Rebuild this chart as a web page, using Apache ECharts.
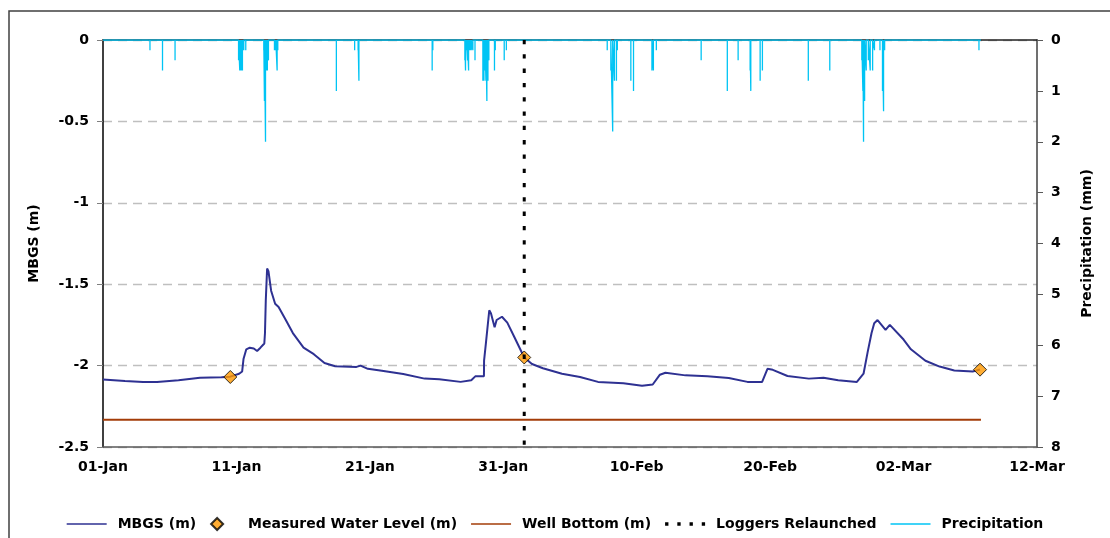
<!DOCTYPE html>
<html><head><meta charset="utf-8">
<script src="https://cdn.jsdelivr.net/npm/echarts@6/dist/echarts.min.js"></script>
<style>html,body{margin:0;padding:0;background:#fff}#c{width:1110px;height:538px}</style>
</head><body><div id="c"></div>
<script>
// x values are days since 01-Jan
const xTickLabels = ['01-Jan','11-Jan','21-Jan','31-Jan','10-Feb','20-Feb','02-Mar','12-Mar'];
const mbgsDays = [0,1.65,3.0,4.05,5.66,7.27,8.88,9.54,10.2,10.43,10.53,10.74,11.0,11.3,11.55,11.8,12.09,12.14,12.2,12.3,12.4,12.6,12.9,13.16,13.7,14.23,15.03,15.8,16.6,17.4,19.0,19.3,19.85,20.9,22.5,24.1,25.2,26.8,27.6,27.9,28.55,28.56,28.7,28.95,29.08,29.35,29.5,29.9,30.3,30.8,31.57,32.15,32.97,34.4,35.75,37.1,39.0,40.4,41.2,41.74,42.15,43.65,45.3,46.9,48.3,49.4,49.8,50.2,51.3,52.9,54.0,55.1,56.5,57.0,57.3,57.6,57.8,58.05,58.65,58.97,60.0,60.55,61.64,62.7,63.8,65.18,65.73];
const mbgsLevels = [-2.085,-2.094,-2.10,-2.10,-2.09,-2.075,-2.072,-2.068,-2.05,-2.036,-1.96,-1.90,-1.89,-1.895,-1.91,-1.89,-1.864,-1.80,-1.60,-1.404,-1.42,-1.54,-1.62,-1.64,-1.72,-1.80,-1.89,-1.93,-1.984,-2.004,-2.008,-2.0,-2.02,-2.032,-2.052,-2.08,-2.084,-2.10,-2.09,-2.066,-2.066,-1.97,-1.86,-1.66,-1.68,-1.764,-1.72,-1.70,-1.736,-1.82,-1.95,-1.99,-2.016,-2.05,-2.07,-2.10,-2.108,-2.124,-2.116,-2.056,-2.044,-2.06,-2.066,-2.076,-2.10,-2.10,-2.02,-2.026,-2.064,-2.08,-2.074,-2.09,-2.10,-2.05,-1.92,-1.80,-1.74,-1.72,-1.78,-1.75,-1.84,-1.90,-1.97,-2.006,-2.03,-2.036,-2.024];
const measuredDays = [9.54, 31.57, 65.73];
const measuredLevels = [-2.07, -1.95, -2.025];
const wellBottomDays = [0, 65.8];
const wellBottomLevels = [-2.333, -2.333];
const relaunchDays = [31.57, 31.57];
const relaunchLevels = [0, -2.5];
const precipDays = [3.52,4.46,5.40,10.16,10.25,10.35,10.45,10.55,10.7,12.05,12.1,12.18,12.25,12.32,12.4,12.85,12.95,13.05,13.1,17.49,18.86,19.12,19.18,24.67,24.72,27.12,27.17,27.25,27.32,27.4,27.5,27.6,27.72,27.88,28.47,28.55,28.62,28.7,28.77,28.85,28.92,29.34,29.4,30.07,30.23,37.79,38.06,38.2,38.33,38.48,38.55,39.56,39.76,41.14,41.25,41.47,44.83,46.79,47.6,48.5,48.55,49.25,49.42,52.86,54.47,56.87,56.95,57.0,57.08,57.2,57.36,57.5,57.68,57.82,58.23,58.42,58.5,58.58,65.65];
const precipValues = [0.2,0.6,0.4,0.4,0.6,0.6,0.6,0.2,0.2,0.2,1.2,2.0,0.6,0.6,0.4,0.2,0.2,0.6,0.2,1.0,0.2,0.2,0.8,0.6,0.2,0.4,0.6,0.2,0.4,0.6,0.2,0.2,0.2,0.4,0.8,0.8,0.6,0.8,1.2,0.8,0.4,0.6,0.2,0.4,0.2,0.2,0.6,1.8,0.8,0.8,0.2,0.8,1.0,0.6,0.6,0.2,0.4,1.0,0.4,0.6,1.0,0.8,0.6,0.8,0.6,0.4,1.0,2.0,1.2,0.6,0.4,0.6,0.6,0.2,0.2,1.0,1.4,0.2,0.2];
const precipStartDay = 0, precipEndDay = 65.8;

const zip = (a, b) => a.map((v, i) => [v, b[i]]);
const precipData = [[precipStartDay, 0]];
precipDays.forEach((d, i) => { precipData.push([d, 0], [d, precipValues[i]], [d, 0]); });
precipData.push([precipEndDay, 0]);

const FONT = 'DejaVu Sans';
const lbl = {color:'#000', fontFamily:FONT, fontWeight:'bold', fontSize:14};
const lineIcon = 'path://M0,0h40v1.6h-40z';
const dotIcon = 'path://M0,0h3v3h-3zM11,0h3v3h-3zM22,0h3v3h-3zM33,0h3v3h-3z';
const diamondIcon = 'path://M6,0L12,6L6,12L0,6Z';

const chart = echarts.init(document.getElementById('c'), null, {renderer:'canvas'});
chart.setOption({
  animation:false,
  backgroundColor:'#fff',
  graphic:[{type:'rect', shape:{x:9, y:11, width:1200, height:700}, style:{fill:'none', stroke:'#404040', lineWidth:1.5}, silent:true, z:-10}],
  grid:{left:103, right:73, top:40, bottom:91, containLabel:false},
  legend:{
    bottom:2, left:'center', itemWidth:40, itemHeight:12, itemGap:14, symbolKeepAspect:true,
    textStyle:{color:'#000', fontFamily:FONT, fontWeight:'bold', fontSize:14, padding:[0,0,0,6]},
    data:[
      {name:'MBGS (m)', icon:lineIcon},
      {name:'Measured Water Level (m)', icon:diamondIcon},
      {name:'Well Bottom (m)', icon:lineIcon},
      {name:'Loggers Relaunched', icon:dotIcon},
      {name:'Precipitation', icon:lineIcon}
    ]
  },
  xAxis:[{
    type:'value', min:0, max:70, interval:10, position:'bottom',
    axisLine:{show:true, onZero:false, lineStyle:{color:'#595959', width:1.5}},
    axisTick:{show:false}, splitLine:{show:false},
    axisLabel:Object.assign({margin:13, formatter:v => xTickLabels[Math.round(v/10)]}, lbl)
  },{
    type:'value', min:0, max:70, position:'top',
    axisLine:{show:true, onZero:false, lineStyle:{color:'#222', width:1.5}},
    axisTick:{show:false}, splitLine:{show:false}, axisLabel:{show:false}
  }],
  yAxis:[{
    type:'value', min:-2.5, max:0, interval:0.5, position:'left',
    name:'MBGS (m)', nameLocation:'middle', nameRotate:90, nameGap:62,
    nameTextStyle:{color:'#000', fontFamily:FONT, fontWeight:'bold', fontSize:14},
    axisLine:{show:true, onZero:false, lineStyle:{color:'#000', width:1.5}},
    axisTick:{show:true, length:6, lineStyle:{color:'#7F7F7F'}},
    splitLine:{show:true, lineStyle:{color:'#BFBFBF', width:1.3, type:[9,6]}},
    axisLabel:Object.assign({margin:14}, lbl)
  },{
    type:'value', min:0, max:8, interval:1, inverse:true, position:'right',
    name:'Precipitation (mm)', nameLocation:'middle', nameRotate:90, nameGap:43,
    nameTextStyle:{color:'#000', fontFamily:FONT, fontWeight:'bold', fontSize:14},
    axisLine:{show:true, onZero:false, lineStyle:{color:'#404040', width:1.5}},
    axisTick:{show:true, length:6, lineStyle:{color:'#595959'}},
    splitLine:{show:false},
    axisLabel:Object.assign({margin:14}, lbl)
  }],
  series:[
    {name:'MBGS (m)', type:'line', data:zip(mbgsDays, mbgsLevels), symbol:'none', z:4,
     lineStyle:{color:'#2E3192', width:2}, itemStyle:{color:'#2E3192'}},
    {name:'Measured Water Level (m)', type:'scatter', data:zip(measuredDays, measuredLevels), symbol:'diamond', symbolSize:13, z:6,
     itemStyle:{color:'#FF9900', borderColor:'#000', borderWidth:1}},
    {name:'Well Bottom (m)', type:'line', data:zip(wellBottomDays, wellBottomLevels), symbol:'none', z:3,
     lineStyle:{color:'#A33C08', width:2}, itemStyle:{color:'#A33C08'}},
    {name:'Loggers Relaunched', type:'line', data:zip(relaunchDays, relaunchLevels), symbol:'none', z:7,
     lineStyle:{color:'#000', width:3, type:[4.3,10]}, itemStyle:{color:'#000'}},
    {name:'Precipitation', type:'line', yAxisIndex:1, data:precipData, symbol:'none', z:5,
     lineStyle:{color:'#00C4F4', width:1.3}, itemStyle:{color:'#00C4F4'}}
  ]
});
</script></body></html>
